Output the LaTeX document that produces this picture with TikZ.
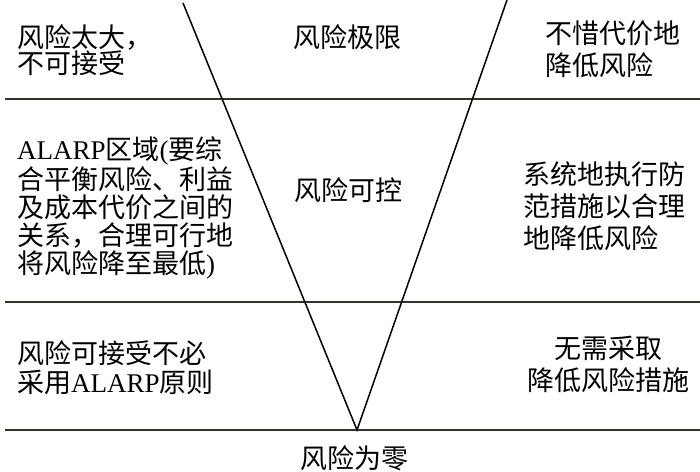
\documentclass[tikz,border=0pt]{standalone}
\usepackage{fontspec}
\setmainfont{Liberation Serif}
\newfontfamily\cjk{Noto Sans CJK SC}
\definecolor{hline}{HTML}{3A302B}
\tikzset{
  txt/.style={inner sep=0pt, align=left, anchor=base west},
  ctxt/.style={inner sep=0pt, align=center, anchor=base},
  hrule/.style={draw=hline, line width=2pt},
  vline/.style={draw=black, line width=1.5pt},
}
\newcommand{\fs}[1]{\fontsize{27}{#1}\selectfont}
\begin{document}
\begin{tikzpicture}[x=1pt,y=-1pt]
\useasboundingbox (0,0) rectangle (700,471);
% horizontal lines
\coordinate (h1l) at (5,99);  \coordinate (h1r) at (700,99);
\coordinate (h2l) at (5,302); \coordinate (h2r) at (700,302);
\coordinate (h3l) at (5,430); \coordinate (h3r) at (700,430);
\draw[hrule] (h1l) -- (h1r);
\draw[hrule] (h2l) -- (h2r);
\draw[hrule] (h3l) -- (h3r);
% V shape
\coordinate (vl) at (183,3);
\coordinate (vr) at (507,0);
\coordinate (v) at (357,430);
\draw[vline] (vl) -- (v) -- (vr);
% texts (base anchor = baseline of last line)
\node[txt, font=\fs{26}] (t1) at (17,73) {\cjk 风险太大，\\\cjk 不可接受};
\node[ctxt, font=\fs{26}] (c1) at (347,47) {\cjk 风险极限};
\node[txt, font=\fs{32}] (r1) at (545,75) {\cjk 不惜代价地\\\cjk 降低风险};
\node[txt, font=\fs{28}] (t2) at (17,273) {ALARP{\cjk 区域}({\cjk 要综}\\\cjk 合平衡风险、利益\\\cjk 及成本代价之间的\\\cjk 关系，合理可行地\\{\cjk 将风险降至最低})};
\node[ctxt, font=\fs{26}] (c2) at (348,200) {\cjk 风险可控};
\node[txt, font=\fs{32}] (r2) at (523,248) {\cjk 系统地执行防\\\cjk 范措施以合理\\\cjk 地降低风险};
\node[txt, font=\fs{29}] (t3) at (17,392) {\cjk 风险可接受不必\\\cjk 采用{\rmfamily ALARP}原则};
\node[ctxt, font=\fs{32}] (r3) at (608,390) {\cjk 无需采取\\\cjk 降低风险措施};
\node[ctxt, font=\fs{26}] (z) at (354,468) {\cjk 风险为零};
\end{tikzpicture}
\end{document}
